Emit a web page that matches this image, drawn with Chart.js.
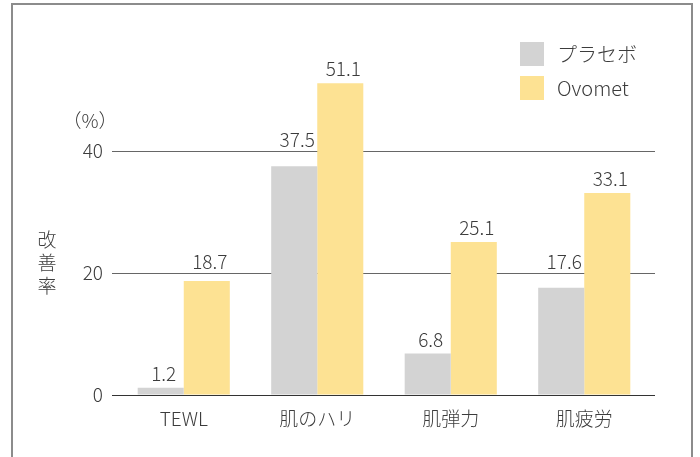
<!DOCTYPE html>
<html>
<head>
<meta charset="utf-8">
<script src="https://cdn.jsdelivr.net/npm/chart.js@4.4.1/dist/chart.umd.min.js"></script>
<style>
  html, body { margin: 0; padding: 0; background: #fff; }
  #wrap { width: 700px; height: 457px; }
</style>
</head>
<body>
<div id="wrap"><canvas id="myChart" width="700" height="457"></canvas></div>
<script>
// data
const categories = ["TEWL", "肌のハリ", "肌弾力", "肌疲労"];
const seriesNames = ["プラセボ", "Ovomet"];
const placeboValues = [1.2, 37.5, 6.8, 17.6];
const ovometValues = [18.7, 51.1, 25.1, 33.1];
const yTicks = [0, 20, 40];
const yUnit = "（%）";
const yTitle = ["改", "善", "率"];

const FONT = "'Noto Sans CJK JP', 'Noto Sans', sans-serif";
const TEXT = "#3c3c3c";
const colors = ["#d3d3d3", "#fde293"];

// grid lines behind the bars, frame / legend / titles / values on top
const decoPlugin = {
  id: "deco",
  beforeDatasetsDraw(chart) {
    const ctx = chart.ctx;
    const area = chart.chartArea;
    const yScale = chart.scales.y;
    ctx.save();
    yTicks.forEach(v => {
      const y = Math.round(yScale.getPixelForValue(v)) + 0.5;
      ctx.strokeStyle = v === 0 ? "#333" : "#666";
      ctx.lineWidth = 1.2;
      ctx.beginPath();
      ctx.moveTo(area.left - 5, y);
      ctx.lineTo(area.right + 4, y);
      ctx.stroke();
    });
    ctx.restore();
  },
  afterDraw(chart) {
    const ctx = chart.ctx;
    const yScale = chart.scales.y;
    ctx.save();

    // outer frame (open at the bottom)
    ctx.strokeStyle = "#8c8c8c";
    ctx.lineWidth = 2;
    ctx.beginPath();
    ctx.moveTo(12, 457);
    ctx.lineTo(12, 4);
    ctx.lineTo(692, 4);
    ctx.lineTo(692, 457);
    ctx.stroke();

    ctx.fillStyle = TEXT;
    ctx.font = "300 19px " + FONT;

    // unit and vertical title
    ctx.textAlign = "center";
    ctx.textBaseline = "middle";
    ctx.fillText(yUnit, 90, 121);
    yTitle.forEach((ch, i) => ctx.fillText(ch, 47, 240 + i * 23));

    // value labels above bars, lifted over a grid line when they would cross it
    const gridYs = yTicks.filter(v => v > 0).map(v => yScale.getPixelForValue(v));
    ctx.textBaseline = "alphabetic";
    chart.data.datasets.forEach((ds, di) => {
      chart.getDatasetMeta(di).data.forEach((bar, i) => {
        let base = bar.y - 7;
        gridYs.forEach(g => {
          if (g > base - 16 && g < bar.y) base = g - 4;
        });
        ctx.fillText(ds.data[i].toFixed(1), bar.x + 3, base);
      });
    });

    // legend
    ctx.textAlign = "left";
    ctx.textBaseline = "middle";
    ctx.font = "300 20px " + FONT;
    seriesNames.forEach((name, i) => {
      const top = 42 + i * 34;
      ctx.fillStyle = colors[i];
      ctx.fillRect(520, top, 24, 24);
      ctx.fillStyle = TEXT;
      ctx.fillText(name, 557, top + 12);
    });

    ctx.restore();
  }
};

const ctx = document.getElementById("myChart").getContext("2d");
const myChart = new Chart(ctx, {
  type: "bar",
  data: {
    labels: categories,
    datasets: [
      { label: seriesNames[0], data: placeboValues, backgroundColor: colors[0] },
      { label: seriesNames[1], data: ovometValues, backgroundColor: colors[1] }
    ]
  },
  options: {
    responsive: false,
    animation: false,
    layout: { padding: { top: 29, right: 49, bottom: 0, left: 0 } },
    datasets: {
      bar: { categoryPercentage: 0.69, barPercentage: 1.0, borderWidth: 0 }
    },
    plugins: {
      legend: { display: false },
      tooltip: { enabled: false }
    },
    scales: {
      x: {
        grid: { display: false },
        border: { display: false },
        ticks: { color: TEXT, font: { family: FONT, size: 19, weight: 300 }, padding: 4 },
        afterFit(scale) { scale.height = 62; }
      },
      y: {
        min: 0,
        max: 60,
        afterBuildTicks(scale) { scale.ticks = yTicks.map(v => ({ value: v })); },
        grid: { color: "rgba(0,0,0,0)", tickLength: 5, drawTicks: true },
        border: { display: false },
        ticks: { color: TEXT, font: { family: FONT, size: 19, weight: 300 }, padding: 9 },
        afterFit(scale) { scale.width = 117; }
      }
    }
  },
  plugins: [decoPlugin]
});
</script>
</body>
</html>
